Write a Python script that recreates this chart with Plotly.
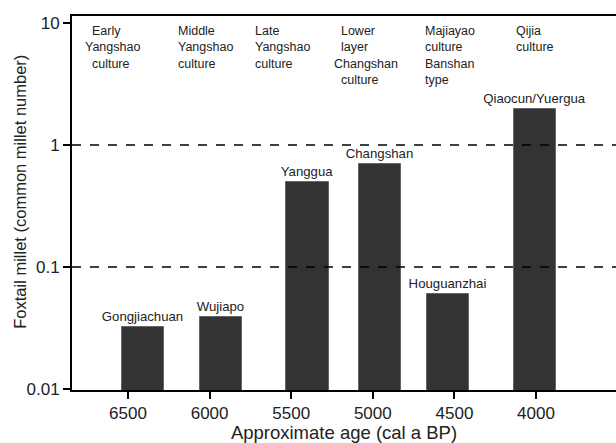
import plotly.graph_objects as go

# Data
sites = ["Gongjiachuan", "Wujiapo", "Yanggua", "Changshan", "Houguanzhai", "Qiaocun/Yuergua"]
site_age = [6410, 5930, 5400, 4955, 4540, 4005]
ratio = [0.032, 0.039, 0.50, 0.70, 0.060, 1.98]

NB = "\u00a0\u00a0"
cultures = [NB + "Early<br>Yangshao<br>" + NB + "culture",
            "Middle<br>Yangshao<br>culture",
            "Late<br>Yangshao<br>culture",
            NB + "Lower<br>" + NB + "layer<br>Changshan<br>" + NB + "culture",
            "Majiayao<br>culture<br>Banshan<br>type",
            "Qijia<br>culture"]
culture_age = [6776, 6206, 5734, 5250, 4692, 4135]

x_ticks = [6500, 6000, 5500, 5000, 4500, 4000]
y_ticks = [0.01, 0.1, 1, 10]
y_ticklabels = ["0.01", "0.1", "1", "10"]
ref_lines = [1, 0.1]

font = "Liberation Sans, Arial, sans-serif"
txt = "#222222"

fig = go.Figure()
fig.add_trace(go.Bar(
    x=site_age, y=ratio, width=258,
    marker=dict(color="#333333", line=dict(color="#666666", width=1)),
    text=sites, textposition="outside", cliponaxis=False, constraintext="none",
    textfont=dict(family=font, size=13.2, color=txt),
    showlegend=False, hoverinfo="skip",
))

for v in ref_lines:
    fig.add_shape(type="line", xref="paper", x0=0, x1=1, yref="y", y0=v, y1=v,
                  line=dict(color="black", width=1.5, dash="dash"), layer="above")

for t, a in zip(cultures, culture_age):
    fig.add_annotation(x=a, y=1, xref="x", yref="paper", yanchor="top", xanchor="left",
                       yshift=-6, text=t, showarrow=False, align="left",
                       font=dict(family=font, size=12.5, color=txt))

# y-axis title placed as in the reference (slightly above plot centre)
fig.add_annotation(x=0, y=0.53, xref="paper", yref="paper", xshift=-52,
                   text="Foxtail millet (common millet number)", textangle=-90,
                   showarrow=False, xanchor="center", yanchor="middle",
                   font=dict(family=font, size=16.5, color=txt))

fig.update_layout(
    width=616, height=443,
    margin=dict(l=72, r=0, t=16, b=53),
    plot_bgcolor="white", paper_bgcolor="white",
    bargap=0,
    xaxis=dict(range=[6843, 3510], tickvals=x_ticks, ticktext=[str(v) for v in x_ticks],
               ticks="outside", ticklen=7, tickwidth=1.5, tickcolor="black",
               showline=True, linecolor="black", linewidth=2, mirror=True,
               showgrid=False, zeroline=False, automargin=False,
               tickfont=dict(family=font, size=17, color=txt),
               title=dict(text="Approximate age (cal a BP)", standoff=2,
                          font=dict(family=font, size=18.5, color=txt))),
    yaxis=dict(type="log", range=[-2.008, 1.057], tickvals=y_ticks, ticktext=y_ticklabels,
               ticks="outside", ticklen=7, tickwidth=1.5, tickcolor="black",
               showline=True, linecolor="black", linewidth=2,
               showgrid=False, zeroline=False, automargin=False,
               tickfont=dict(family=font, size=17, color=txt)),
)

fig.write_html("out.html", config={"displayModeBar": False},
               post_script="document.body.style.margin='0';")
